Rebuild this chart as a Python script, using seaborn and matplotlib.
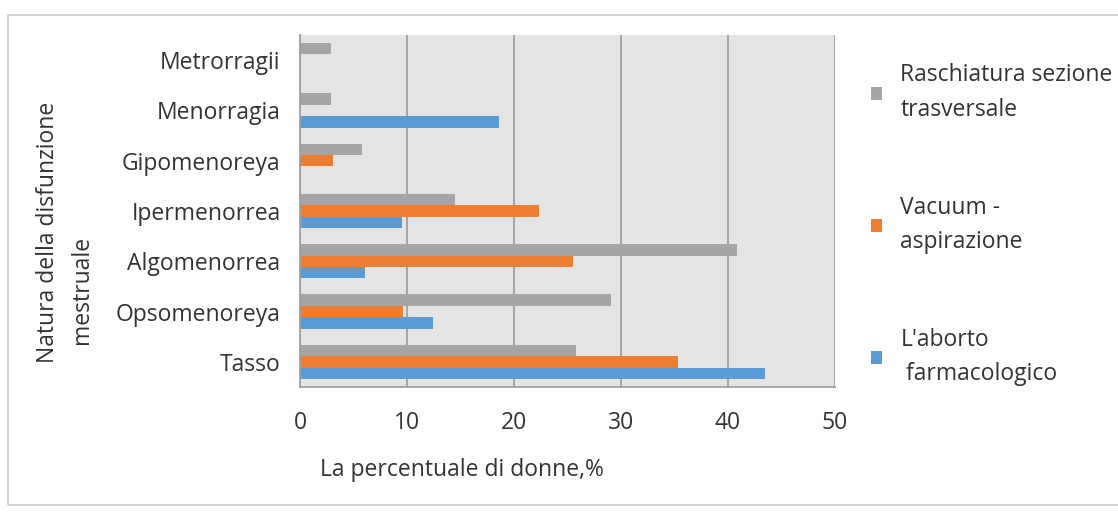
import matplotlib
matplotlib.use("Agg")
import matplotlib.pyplot as plt
import matplotlib.patches as mpatches
import seaborn as sns
import pandas as pd

categories = ["Metrorragii", "Menorragia", "Gipomenoreya", "Ipermenorrea",
              "Algomenorrea", "Opsomenoreya", "Tasso"]
series = ["Raschiatura sezione\ntrasversale", "Vacuum -\naspirazione",
          "L'aborto\n farmacologico"]
raschiatura = [2.9, 2.9, 5.8, 14.5, 40.8, 29.1, 25.8]
vacuum = [0.0, 0.0, 3.1, 22.3, 25.5, 9.6, 35.3]
aborto = [0.0, 18.6, 0.0, 9.5, 6.1, 12.4, 43.5]
x_ticks = [0, 10, 20, 30, 40, 50]
colors = ["#a5a5a5", "#ed7d31", "#5b9bd5"]

rows = []
for name, vals in zip(series, [raschiatura, vacuum, aborto]):
    for cat, v in zip(categories, vals):
        rows.append({"cat": cat, "serie": name, "val": v})
df = pd.DataFrame(rows)

sns.set_style("white")
plt.rcParams["font.family"] = ["Open Sans", "DejaVu Sans"]
fs = 16.5
txt = "#333333"

fig = plt.figure(figsize=(11.18, 5.13), dpi=100)
fig.patches.append(mpatches.Rectangle((8 / 1118, 8 / 513), 1.2, 490 / 513,
                                      transform=fig.transFigure, fill=False,
                                      edgecolor="#c8c8c8", linewidth=1.2))
ax = fig.add_axes([300 / 1118, 1 - 387 / 513, 535 / 1118, 352 / 513])
ax.set_facecolor("#e4e4e4")

sns.barplot(data=df, x="val", y="cat", hue="serie", order=categories,
            hue_order=series, palette=colors, saturation=1, width=0.68,
            orient="h", edgecolor="none", ax=ax)

ax.set_xlim(0, 50)
ax.set_xticks(x_ticks)
ax.xaxis.grid(True, color="#a0a0a0", linewidth=1.3)
ax.set_axisbelow(True)
for s in ["top", "right"]:
    ax.spines[s].set_visible(False)
for s in ["left", "bottom"]:
    ax.spines[s].set_color("#a0a0a0")
    ax.spines[s].set_linewidth(1.3)
ax.tick_params(axis="x", length=7, width=1.3, color="#a0a0a0", pad=10,
               labelsize=fs, labelcolor=txt)
ax.tick_params(axis="y", length=0, pad=14, labelsize=fs, labelcolor=txt)
ax.set_xlabel("")
ax.set_ylabel("")

handles, labels = ax.get_legend_handles_labels()
leg = ax.legend(handles, labels, loc="upper left", bbox_to_anchor=(1.028, 0.978),
                frameon=False, fontsize=fs, handlelength=0.5, handleheight=0.5,
                handletextpad=0.8, labelspacing=3.2, labelcolor=txt)
for t in leg.get_texts():
    t.set_linespacing(1.6)

fig.text(320 / 1118, 1 - 470 / 513, "La percentuale di donne,%", fontsize=fs,
         color=txt, va="center", ha="left")
fig.text(48 / 1118, 1 - 232 / 513, "Natura della disfunzione", fontsize=fs,
         color=txt, rotation=90, va="center", ha="center")
fig.text(82 / 1118, 1 - 290 / 513, "mestruale", fontsize=fs,
         color=txt, rotation=90, va="center", ha="center")

fig.savefig("out.png", dpi=100)
